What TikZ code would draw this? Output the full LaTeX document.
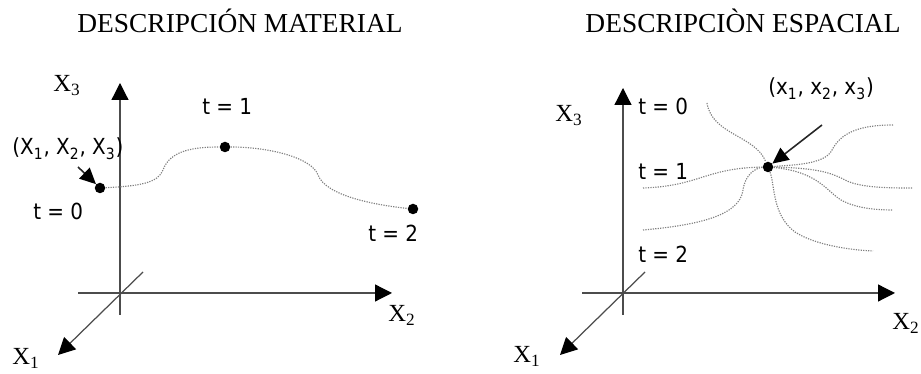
\documentclass[tikz,border=0pt]{standalone}
\usepackage{fontspec}
\setmainfont{Liberation Serif}
\newfontfamily\tagfont{DejaVu Sans Condensed}
\usetikzlibrary{arrows.meta}

\begin{document}
\begin{tikzpicture}[
  x=0.02cm,
  y=-0.02cm,
  axis/.style={
    draw=black!70,
    line width=0.7pt,
    -{Triangle[length=3.4mm,width=3.4mm,black]}
  },
  pointer/.style={
    draw=black!85,
    line width=0.9pt,
    -{Triangle[length=3.2mm,width=3mm,black]}
  },
  trajectory/.style={
    draw=black!50,
    line width=0.65pt,
    dash pattern=on 0.7pt off 0.7pt
  },
  particle/.style={
    circle,
    fill=black,
    minimum size=2.1mm,
    inner sep=0pt
  },
  title/.style={
    inner sep=0pt,
    anchor=base,
    font=\fontsize{15.6}{18}\selectfont
  },
  axis label/.style={
    inner sep=0pt,
    anchor=base west,
    font=\fontsize{14}{16}\selectfont
  },
  tag/.style={
    inner sep=0pt,
    anchor=base west,
    font=\tagfont\fontsize{12.6}{15}\selectfont
  }
]

\path[use as bounding box] (0,0) rectangle (921,374);

% material description
\node[title] (mtitle) at (240,33) {DESCRIPCIÓN MATERIAL};

\coordinate (m3lo) at (120,315);
\coordinate (m3hi) at (120,83);
\coordinate (m2lo) at (78,293);
\coordinate (m2hi) at (392,293);
\coordinate (m1lo) at (143,272);
\coordinate (m1hi) at (58,355);
\draw[axis] (m3lo) -- (m3hi);
\draw[axis] (m2lo) -- (m2hi);
\draw[axis] (m1lo) -- (m1hi);

\node[axis label] (mx3) at (53,92) {X\textsubscript{3}};
\node[axis label] (mx2) at (388,322) {X\textsubscript{2}};
\node[axis label] (mx1) at (12,365) {X\textsubscript{1}};

\node[particle] (p0) at (100,188) {};
\node[particle] (p1) at (225,147) {};
\node[particle] (p2) at (413,209) {};
\coordinate (bend1) at (163,170);
\coordinate (bend2) at (318,175);

\draw[trajectory] (p0) .. controls (140,186) and (158,183) .. (bend1)
  .. controls (170,150) and (195,147) .. (p1)
  .. controls (270,147) and (312,158) .. (bend2)
  .. controls (326,196) and (375,205) .. (p2);

\node[tag] (pos) at (12,155) {(X\textsubscript{1}, X\textsubscript{2}, X\textsubscript{3})};
\node[tag] (mt0) at (33,220) {t = 0};
\node[tag] (mt1) at (202,115) {t = 1};
\node[tag] (mt2) at (368,242) {t = 2};

\coordinate (mtail) at (78,167);
\draw[pointer] (mtail) -- (p0);

% spatial description
\node[title] (stitle) at (743,33) {DESCRIPCIÒN ESPACIAL};

\coordinate (s3lo) at (623,315);
\coordinate (s3hi) at (623,88);
\coordinate (s2lo) at (582,293);
\coordinate (s2hi) at (895,293);
\coordinate (s1lo) at (645,272);
\coordinate (s1hi) at (560,355);
\draw[axis] (s3lo) -- (s3hi);
\draw[axis] (s2lo) -- (s2hi);
\draw[axis] (s1lo) -- (s1hi);

\node[axis label] (sx3) at (555,122) {X\textsubscript{3}};
\node[axis label] (sx2) at (892,330) {X\textsubscript{2}};
\node[axis label] (sx1) at (513,363) {X\textsubscript{1}};

\node[tag] (st0) at (638,115) {t = 0};
\node[tag] (st1) at (638,180) {t = 1};
\node[tag] (st2) at (638,263) {t = 2};
\node[tag] (here) at (768,95) {(x\textsubscript{1}, x\textsubscript{2}, x\textsubscript{3})};

\node[particle] (q) at (768,167) {};

\coordinate (fa) at (707,103);
\coordinate (fb) at (893,125);
\coordinate (fbk) at (832,150);
\coordinate (fc) at (643,188);
\coordinate (fd) at (643,230);
\coordinate (fdk) at (743,190);
\coordinate (fe) at (873,251);
\coordinate (fek) at (795,232);
\coordinate (ff) at (913,188);
\coordinate (ffk) at (845,180);
\coordinate (fg) at (893,210);
\coordinate (fgk) at (845,202);

\draw[trajectory] (fa) .. controls (712,135) and (755,135) .. (q);
\draw[trajectory] (fb) .. controls (855,125) and (840,135) .. (fbk)
  .. controls (825,165) and (790,165) .. (q);
\draw[trajectory] (fc) .. controls (700,186) and (705,168) .. (q);
\draw[trajectory] (fd) .. controls (700,225) and (740,215) .. (fdk)
  .. controls (745,175) and (755,168) .. (q);
\draw[trajectory] (q) .. controls (775,185) and (772,215) .. (fek)
  .. controls (815,245) and (850,250) .. (fe);
\draw[trajectory] (q) .. controls (815,168) and (830,172) .. (ffk)
  .. controls (860,188) and (890,188) .. (ff);
\draw[trajectory] (q) .. controls (822,172) and (828,195) .. (fgk)
  .. controls (860,209) and (880,210) .. (fg);

\coordinate (stail) at (822,125);
\draw[pointer] (stail) -- (q);

\end{tikzpicture}
\end{document}
